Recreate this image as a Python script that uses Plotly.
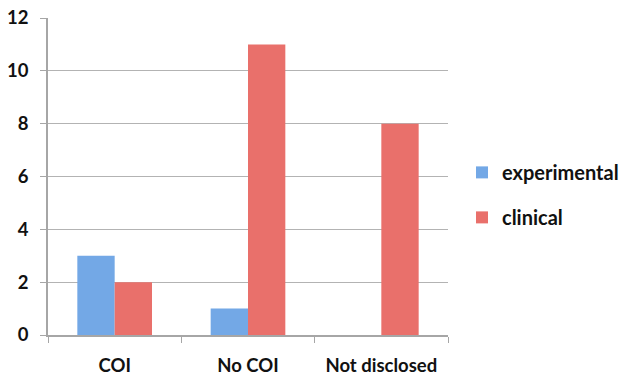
import plotly.graph_objects as go

categories = ["COI", "No COI", "Not disclosed"]
experimental = [3, 1, 0]
clinical = [2, 11, 8]
y_ticks = [0, 2, 4, 6, 8, 10, 12]

FAM = "Lato, 'Open Sans', sans-serif"

fig = go.Figure()
fig.add_trace(go.Bar(x=categories, y=experimental, name="experimental",
                     marker=dict(color="#73a8e6", line=dict(width=0)),
                     legendgroup="a"))
fig.add_trace(go.Bar(x=categories, y=clinical, name="clinical",
                     marker=dict(color="#e9706b", line=dict(width=0)),
                     legendgroup="b"))

fig.update_layout(
    width=623, height=375,
    margin=dict(l=48, r=175, t=18, b=40, autoexpand=False),
    paper_bgcolor="white", plot_bgcolor="white",
    barmode="group", bargap=0.44, bargroupgap=0,
    font=dict(family=FAM, size=17, color="#111111"),
    legend=dict(x=1.035, y=0.442, xanchor="left", yanchor="middle",
                font=dict(family=FAM, size=20, color="#111111", weight="bold"),
                tracegroupgap=16, itemwidth=30),
    xaxis=dict(showline=True, linecolor="#a6a6a6", linewidth=1.5,
               ticks="outside", tickson="boundaries", ticklen=6, tickcolor="#a6a6a6",
               ticklabelstandoff=13,
               tickfont=dict(family=FAM, size=18.5, color="#111111", weight="bold"),
               showgrid=False),
    yaxis=dict(range=[0, 12], tickvals=y_ticks, showline=True, linecolor="#a6a6a6", linewidth=1.5,
               ticks="outside", ticklen=6, tickcolor="#a6a6a6", ticklabelstandoff=8,
               gridcolor="#b3b3b3", gridwidth=1, zeroline=False,
               tickfont=dict(family=FAM, size=18.5, color="#111111", weight="bold")),
)

fig.write_html("out.html")
